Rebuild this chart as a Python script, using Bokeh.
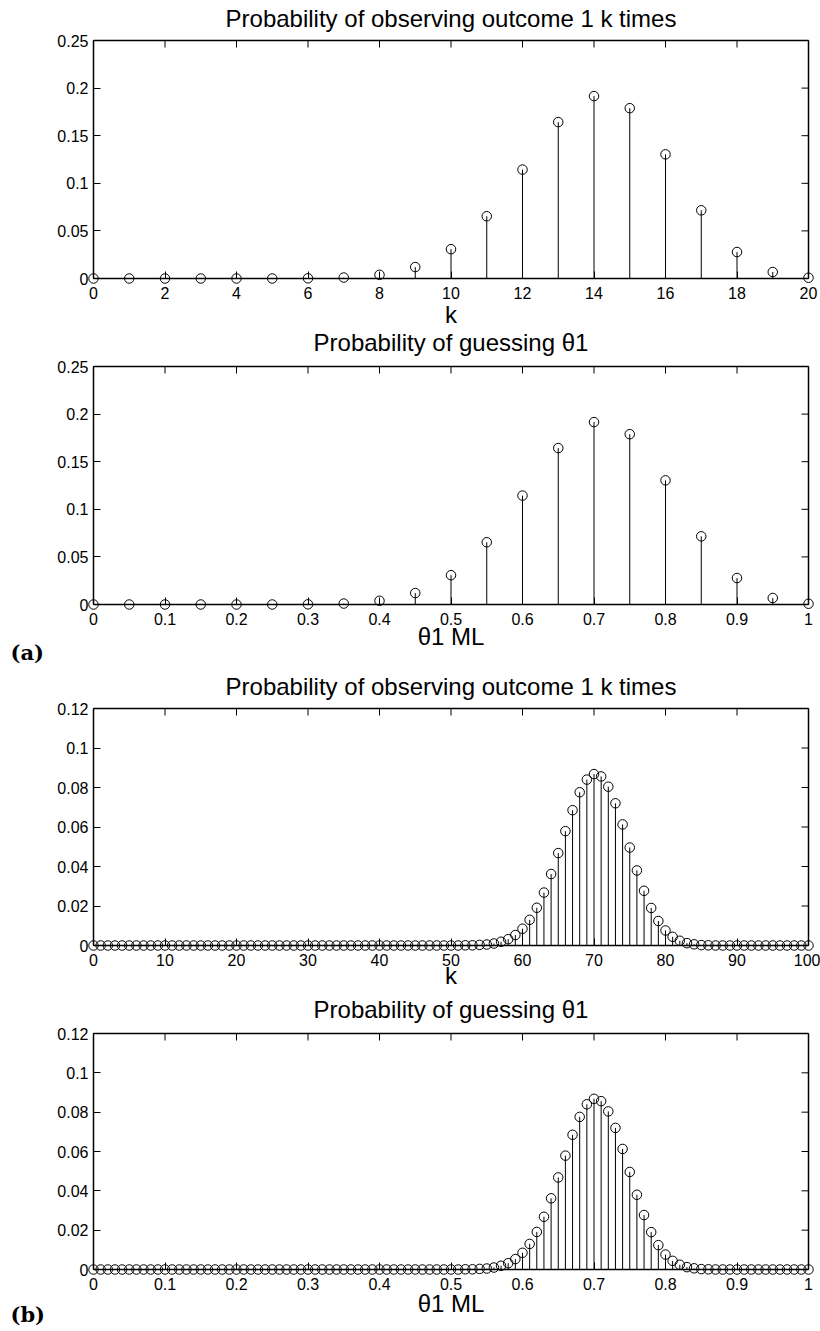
from bokeh.plotting import figure
from bokeh.layouts import column
from bokeh.models import (ColumnDataSource, Range1d, LinearAxis, FixedTicker,
                          CustomJSTickFormatter, Label)
from bokeh.embed import file_html
from bokeh.resources import INLINE

# ---------------- data ----------------
k20 = list(range(21))
theta20 = [k / 20 for k in k20]
p20 = [0.0000, 0.0000, 0.0000, 0.0000, 0.0000, 0.0000, 0.0002, 0.0010,
       0.0039, 0.0120, 0.0308, 0.0654, 0.1144, 0.1643, 0.1916, 0.1789,
       0.1304, 0.0716, 0.0278, 0.0068, 0.0008]

k100 = list(range(101))
theta100 = [k / 100 for k in k100]
p100 = [
    0, 0, 0, 0, 0, 0, 0, 0, 0, 0,
    0, 0, 0, 0, 0, 0, 0, 0, 0, 0,
    0, 0, 0, 0, 0, 0, 0, 0, 0, 0,
    0, 0, 0, 0, 0, 0, 0, 0, 0, 0,
    0, 0, 0, 0, 0, 0, 0, 0, 0, 0,
    0, 0, 0.0001, 0.0001, 0.0003, 0.0005, 0.0010, 0.0019, 0.0032, 0.0053,
    0.0085, 0.0130, 0.0191, 0.0268, 0.0362, 0.0468, 0.0579, 0.0685, 0.0776, 0.0840,
    0.0868, 0.0856, 0.0804, 0.0720, 0.0613, 0.0496, 0.0380, 0.0277, 0.0190, 0.0124,
    0.0076, 0.0044, 0.0024, 0.0012, 0.0006, 0.0002, 0.0001, 0, 0, 0,
    0, 0, 0, 0, 0, 0, 0, 0, 0, 0,
    0]

title_obs = "Probability of observing outcome 1 k times"
title_guess = "Probability of guessing θ1"
xlabel_k = "k"
xlabel_theta = "θ1 ML"

xticks_k20 = [0, 2, 4, 6, 8, 10, 12, 14, 16, 18, 20]
xticks_k100 = [0, 10, 20, 30, 40, 50, 60, 70, 80, 90, 100]
xticks_theta = [0, 0.1, 0.2, 0.3, 0.4, 0.5, 0.6, 0.7, 0.8, 0.9, 1]
yticks_a = [0, 0.05, 0.1, 0.15, 0.2, 0.25]
yticks_b = [0, 0.02, 0.04, 0.06, 0.08, 0.1, 0.12]

# ---------------- styling / layout ----------------
FONT = "Liberation Sans"
PAGE_W = 820
BOX_L, BOX_R = 93, 808
TICK = 7


def make_axis(ticks, fixed, bounds, standoff=5):
    return LinearAxis(ticker=FixedTicker(ticks=ticks),
                      formatter=CustomJSTickFormatter(code="return String(tick);"),
                      fixed_location=fixed, bounds=bounds,
                      major_tick_in=TICK, major_tick_out=0,
                      minor_tick_line_color=None,
                      axis_line_color="black", axis_line_width=1.5,
                      major_tick_line_color="black", major_tick_line_width=1,
                      major_label_text_font=FONT,
                      major_label_text_font_size="16px",
                      major_label_text_color="black",
                      major_label_standoff=standoff)


def panel(x, y, xmax, ymax, xticks, yticks, title, xlabel,
          fig_h, top_border, box_h, title_dy, xlabel_dy, tag=None, tag_dy=0):
    box_w = BOX_R - BOX_L
    sx = xmax / box_w          # data units per pixel
    sy = ymax / box_h
    bottom_border = fig_h - top_border - box_h
    p = figure(frame_width=PAGE_W, frame_height=fig_h, min_border=0,
               x_range=Range1d(-BOX_L * sx, xmax + (PAGE_W - BOX_R) * sx),
               y_range=Range1d(-bottom_border * sy, ymax + top_border * sy),
               x_axis_type=None, y_axis_type=None,
               toolbar_location=None, output_backend="svg")
    p.outline_line_color = None
    p.title.visible = False
    p.background_fill_color = "white"
    p.border_fill_color = "white"

    # labelled axes (bottom, left) at the box edges
    p.add_layout(make_axis(xticks, 0, (0, xmax), 8), "below")
    p.add_layout(make_axis(yticks, 0, (0, ymax), 5), "left")

    # top and right box edges with inward ticks (no labels)
    p.segment(x0=[0, xmax], y0=[ymax, 0], x1=[xmax, xmax], y1=[ymax, ymax],
              line_color="black", line_width=1.5)
    p.segment(x0=xticks, y0=ymax, x1=xticks, y1=ymax - TICK * sy,
              line_color="black", line_width=1)
    p.segment(x0=xmax, y0=yticks, x1=xmax - TICK * sx, y1=yticks,
              line_color="black", line_width=1)

    src = ColumnDataSource(dict(x=x, y=y))
    p.segment(x0="x", y0=0, x1="x", y1="y", source=src,
              line_color="black", line_width=1)
    p.scatter(x="x", y="y", source=src, marker="circle", size=9.5,
              fill_color=None, line_color="black", line_width=1)

    p.add_layout(Label(x=xmax / 2, y=ymax + title_dy * sy, text=title,
                       text_align="center", text_baseline="middle",
                       text_font=FONT, text_font_size="24px",
                       text_color="black"))
    p.add_layout(Label(x=xmax / 2, y=-xlabel_dy * sy, text=xlabel,
                       text_align="center", text_baseline="middle",
                       text_font=FONT, text_font_size="24px",
                       text_color="black"))
    if tag:
        p.add_layout(Label(x=(10 - BOX_L) * sx, y=-tag_dy * sy, text=tag,
                           text_align="left", text_baseline="middle",
                           text_font="DejaVu Serif", text_font_style="bold",
                           text_font_size="21px", text_color="black"))
    return p


p1 = panel(k20, p20, 20, 0.25, xticks_k20, yticks_a, title_obs, xlabel_k,
           fig_h=327, top_border=40, box_h=238, title_dy=22, xlabel_dy=36)
p2 = panel(theta20, p20, 1, 0.25, xticks_theta, yticks_a, title_guess, xlabel_theta,
           fig_h=341, top_border=39, box_h=238, title_dy=24, xlabel_dy=32,
           tag="(a)", tag_dy=48)
p3 = panel(k100, p100, 100, 0.12, xticks_k100, yticks_b, title_obs, xlabel_k,
           fig_h=322, top_border=40, box_h=237, title_dy=22, xlabel_dy=30)
p4 = panel(theta100, p100, 1, 0.12, xticks_theta, yticks_b, title_guess, xlabel_theta,
           fig_h=341, top_border=43, box_h=236, title_dy=24, xlabel_dy=34,
           tag="(b)", tag_dy=45)

layout = column(p1, p2, p3, p4, spacing=0)
open("out.html", "w").write(file_html(layout, INLINE))
